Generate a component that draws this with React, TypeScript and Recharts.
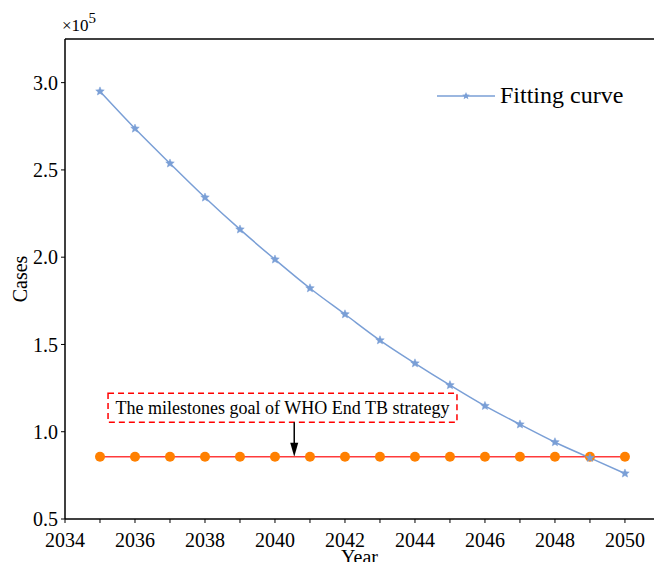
import React from "react";
import {
  LineChart,
  Line,
  XAxis,
  YAxis,
  ReferenceArea,
  ReferenceLine,
} from "recharts";

const years = [2035, 2036, 2037, 2038, 2039, 2040, 2041, 2042, 2043, 2044, 2045, 2046, 2047, 2048, 2049, 2050];
const fittedCases = [295000, 273700, 253700, 234200, 215900, 198700, 182200, 167300, 152400, 139200, 126700, 114800, 104200, 94000, 85000, 76100];
const goalCases = [85700, 85700, 85700, 85700, 85700, 85700, 85700, 85700, 85700, 85700, 85700, 85700, 85700, 85700, 85700, 85700];
const xTicks = [2034, 2035, 2036, 2037, 2038, 2039, 2040, 2041, 2042, 2043, 2044, 2045, 2046, 2047, 2048, 2049, 2050];
const yTicks = [50000, 100000, 150000, 200000, 250000, 300000];
const noteText = "The milestones goal of WHO End TB strategy";

const data = years.map((year, i) => ({ year, fitted: fittedCases[i], goal: goalCases[i] }));

const BLUE = "#7a9fd6";
const RED = "#ff3b3b";
const ORANGE = "#ff8000";
const FONT = "'Times New Roman', 'Liberation Serif', serif";

const starPoints = (cx: number, cy: number, r: number) => {
  const pts: string[] = [];
  for (let i = 0; i < 10; i++) {
    const rr = i % 2 === 0 ? r : r * 0.45;
    const a = -Math.PI / 2 + (i * Math.PI) / 5;
    pts.push(`${cx + rr * Math.cos(a)},${cy + rr * Math.sin(a)}`);
  }
  return pts.join(" ");
};

const StarDot = (props: any) => {
  const { cx, cy, key } = props;
  if (cx == null || cy == null) return <g key={key} />;
  return <polygon key={key} points={starPoints(cx, cy, 4.5)} fill={BLUE} stroke={BLUE} strokeWidth={0.5} />;
};

const Arrow = (props: any) => {
  const { x1, y1, x2, y2 } = props;
  if (x1 == null) return <g />;
  return (
    <g>
      <line x1={x1} y1={y1} x2={x2} y2={y2 - 12} stroke="#000" strokeWidth={1.5} />
      <polygon points={`${x2 - 4},${y2 - 14} ${x2 + 4},${y2 - 14} ${x2},${y2}`} fill="#000" />
    </g>
  );
};

const tickStyle = { fontSize: 20, fill: "#000", fontFamily: FONT };

export default function App() {
  return (
    <div
      style={{
        position: "absolute",
        left: 0,
        top: 0,
        width: 654,
        height: 562,
        overflow: "hidden",
        background: "#fff",
        fontFamily: FONT,
      }}
    >
      <div style={{ position: "absolute", left: 62, top: 17, fontSize: 17, color: "#000", lineHeight: 1 }}>
        ×10<span style={{ fontSize: 15, position: "relative", top: -8 }}>5</span>
      </div>
      <div
        style={{
          position: "absolute",
          left: 437,
          top: 82,
          display: "flex",
          alignItems: "center",
          zIndex: 2,
        }}
      >
        <svg width={58} height={12}>
          <line x1={0} y1={6} x2={58} y2={6} stroke={BLUE} strokeWidth={1.5} />
          <polygon points={starPoints(29, 6, 4)} fill={BLUE} />
        </svg>
        <span style={{ fontSize: 24, color: "#000", marginLeft: 5 }}>Fitting curve</span>
      </div>
      <LineChart width={654} height={562} data={data} margin={{ top: 39, right: 0, bottom: 0, left: 0 }}>
        <XAxis
          dataKey="year"
          type="number"
          domain={[2034, 2050.83]}
          ticks={xTicks}
          allowDataOverflow
          interval={0}
          height={43}
          tickSize={4}
          tickMargin={10}
          tickFormatter={(v: number) => (v % 2 === 0 ? String(v) : "")}
          tick={tickStyle}
          axisLine={{ stroke: "#000", strokeWidth: 1.5 }}
          tickLine={{ stroke: "#000", strokeWidth: 1 }}
          label={{ value: "Year", position: "insideBottom", offset: -2, fontSize: 20, fill: "#000", fontFamily: FONT }}
        />
        <YAxis
          type="number"
          domain={[50000, 325000]}
          ticks={yTicks}
          allowDataOverflow
          width={65}
          tickSize={4}
          tickMargin={3}
          tickFormatter={(v: number) => (v / 100000).toFixed(1)}
          tick={tickStyle}
          axisLine={{ stroke: "#000", strokeWidth: 1.5 }}
          tickLine={{ stroke: "#000", strokeWidth: 1 }}
          label={{
            value: "Cases",
            angle: -90,
            position: "insideLeft",
            offset: 20,
            fontSize: 20,
            fill: "#000",
            fontFamily: FONT,
            style: { textAnchor: "middle" },
          }}
        />
        <ReferenceLine y={325000} stroke="#000" strokeWidth={1.5} />
        <ReferenceArea
          x1={2035.23}
          x2={2045.2}
          y1={105500}
          y2={122100}
          fill="none"
          fillOpacity={0}
          stroke="#ff0000"
          strokeWidth={1.5}
          strokeDasharray="6 4"
          label={{ value: noteText, position: "center", fontSize: 18, fill: "#000", fontFamily: FONT }}
        />
        <ReferenceLine
          segment={[
            { x: 2040.55, y: 105500 },
            { x: 2040.55, y: 85700 },
          ]}
          shape={<Arrow />}
        />
        <Line
          dataKey="goal"
          stroke={RED}
          strokeWidth={1.5}
          dot={{ r: 5, fill: ORANGE, stroke: ORANGE, strokeWidth: 0 }}
          activeDot={false}
          isAnimationActive={false}
        />
        <Line
          dataKey="fitted"
          type="monotone"
          stroke={BLUE}
          strokeWidth={1.5}
          dot={<StarDot />}
          activeDot={false}
          isAnimationActive={false}
        />
      </LineChart>
    </div>
  );
}
